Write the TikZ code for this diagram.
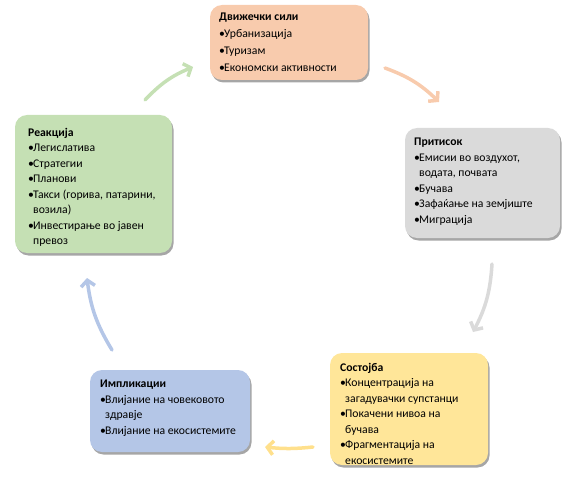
\documentclass[tikz,border=0pt]{standalone}
\usepackage{fontspec}
\setmainfont{Carlito}
\usetikzlibrary{arrows.meta,shadows}
\definecolor{corange}{HTML}{F8CBAD}
\definecolor{cgray}{HTML}{DADADA}
\definecolor{cyellow}{HTML}{FFE699}
\definecolor{cblue}{HTML}{B4C6E7}
\definecolor{cgreen}{HTML}{C5E0B4}
\definecolor{ayellow}{HTML}{FFE08C}
\newcommand{\bl}{\makebox[5pt][l]{•}}
\newcommand{\ind}{\hspace*{5pt}}
\begin{document}
\begin{tikzpicture}[x=1pt,y=-1pt,
  box/.style={draw=none, rounded corners=12pt, anchor=north west, inner sep=0pt, outer sep=0pt,
    drop shadow={shadow xshift=1.5pt,shadow yshift=-2.5pt,opacity=0.35,fill=black}},
  txt/.style={anchor=north west, inner sep=0pt, align=left, font=\fontsize{11.7}{15.5}\selectfont},
  cyc/.style={line width=3.5pt, line cap=round, -{Straight Barb[length=6pt,width=14pt]}}]
\useasboundingbox (0,0) rectangle (583,489);

% boxes
\node[box, fill=corange, minimum width=158pt, minimum height=75pt] (b1) at (210,5) {};
\node[box, fill=cgray, minimum width=155pt, minimum height=110pt] (b2) at (405,128) {};
\node[box, fill=cyellow, minimum width=158pt, minimum height=112pt] (b3) at (330,353) {};
\node[box, fill=cblue, minimum width=160pt, minimum height=82pt] (b4) at (90,370) {};
\node[box, fill=cgreen, minimum width=157pt, minimum height=138pt] (b5) at (15,115) {};

% texts
\node[txt, font=\fontsize{11.7}{17}\selectfont] (t1) at ([xshift=9pt,yshift=-8pt]b1.north west)
  {\textbf{Движечки сили}\\ \bl Урбанизација\\ \bl Туризам\\ \bl Економски активности};
\node[txt] (t2) at ([xshift=9pt,yshift=-10pt]b2.north west)
  {\textbf{Притисок}\\ \bl Емисии во воздухот,\\ \ind водата, почвата\\ \bl Бучава\\ \bl Зафаќање на земјиште\\ \bl Миграција};
\node[txt] (t3) at ([xshift=10pt,yshift=-10pt]b3.north west)
  {\textbf{Состојба}\\ \bl Концентрација на\\ \ind загадувачки супстанци\\ \bl Покачени нивоа на\\ \ind бучава\\ \bl Фрагментација на\\ \ind екосистемите};
\node[txt] (t4) at ([xshift=10pt,yshift=-10pt]b4.north west)
  {\textbf{Импликации}\\ \bl Влијание на човековото\\ \ind здравје\\ \bl Влијание на екосистемите};
\node[txt] (t5) at ([xshift=13pt,yshift=-13pt]b5.north west)
  {\textbf{Реакција}\\ \bl Легислатива\\ \bl Стратегии\\ \bl Планови\\ \bl Такси (горива, патарини,\\ \ind возила)\\ \bl Инвестирање во јавен\\ \ind превоз};

% arrows
\coordinate (g1) at (145,100); \coordinate (g2) at (193,67);
\coordinate (o1) at (385,68);  \coordinate (o2) at (439,102);
\coordinate (r1) at (492,264); \coordinate (r2) at (473,332);
\coordinate (y1) at (313,447); \coordinate (y2) at (265,447);
\coordinate (u1) at (112,350); \coordinate (u2) at (87,278);
\draw[cyc, draw=cgreen] (g1) to[bend left=12] (g2);
\draw[cyc, draw=corange] (o1) to[bend left=12] (o2);
\draw[cyc, draw=cgray] (r1) to[bend left=12] (r2);
\draw[cyc, draw=ayellow] (y1) to[bend left=6] (y2);
\draw[cyc, draw=cblue] (u1) to[bend left=12] (u2);
\end{tikzpicture}
\end{document}
